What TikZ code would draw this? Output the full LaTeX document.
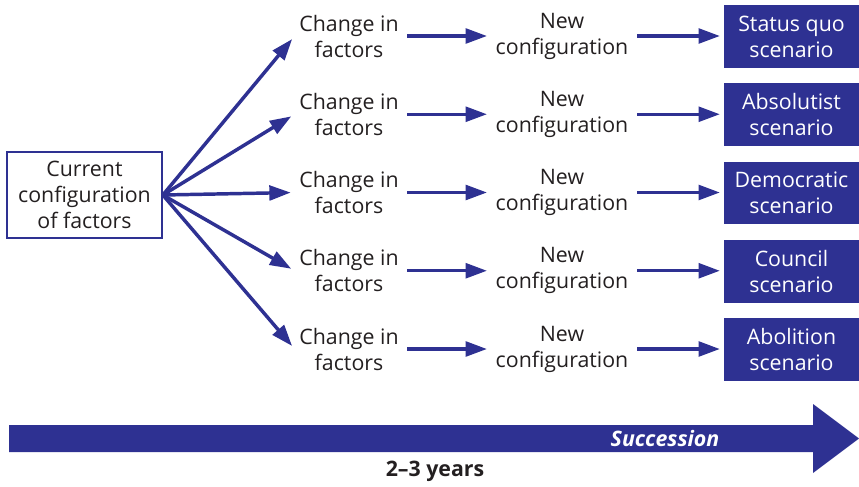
\documentclass[tikz,border=0pt]{standalone}
\usepackage{fontspec}
\setmainfont{Open Sans}
\usetikzlibrary{arrows.meta}
\definecolor{navy}{RGB}{46,49,146}
\definecolor{ink}{RGB}{35,31,32}

\begin{document}
\begin{tikzpicture}[x=0.75pt, y=-0.75pt,
  lbl/.style={align=center, text=ink, font=\fontsize{16}{19.5}\selectfont},
  nowbox/.style={lbl, draw=navy, line width=1.5pt, minimum width=116pt, minimum height=64.5pt},
  scen/.style={lbl, fill=navy, text=white, minimum width=101pt, minimum height=47pt},
  arr/.style={navy, line width=2.6pt, -{Triangle[length=16pt, width=11pt]}}]

\useasboundingbox (0,0) rectangle (859,486);

% where we stand today
\node [nowbox] (now) at (84.5,195) {Current\\configuration\\of factors};

% five paths
\foreach \i/\what in {1/Status quo, 2/Absolutist, 3/Democratic, 4/Council, 5/Abolition} {
  \node [lbl] (chg\i) at (349, {36+78.25*(\i-1)}) {Change in\\factors};
  \node [lbl] (new\i) at (562, {36+78.25*(\i-1)}) {New\\configuration};
  \node [scen] (scen\i) at (791.5, {36.5+78.25*(\i-1)}) {\what\\scenario};
  \draw [arr, shorten >=3pt] (now.east) -- (chg\i.west);
  \draw [arr, shorten <=3pt, shorten >=3pt] (chg\i.east) -- (new\i.west);
  \draw [arr, shorten <=3pt, shorten >=3pt] (new\i.east) -- (scen\i.west |- new\i.east);
}

% time line
\fill [navy] (9,425) -- (813,425) -- (813,404) -- (859,438.5) -- (813,473) -- (813,452) -- (9,452) -- cycle;
\node [lbl, text=white, font=\fontsize{16}{19.5}\selectfont\bfseries\itshape, anchor=east] (succ) at (724,438.5) {Succession};
\node [lbl, font=\fontsize{16}{19.5}\selectfont\bfseries] (span) at (435,471) {2--3 years};
\end{tikzpicture}
\end{document}
